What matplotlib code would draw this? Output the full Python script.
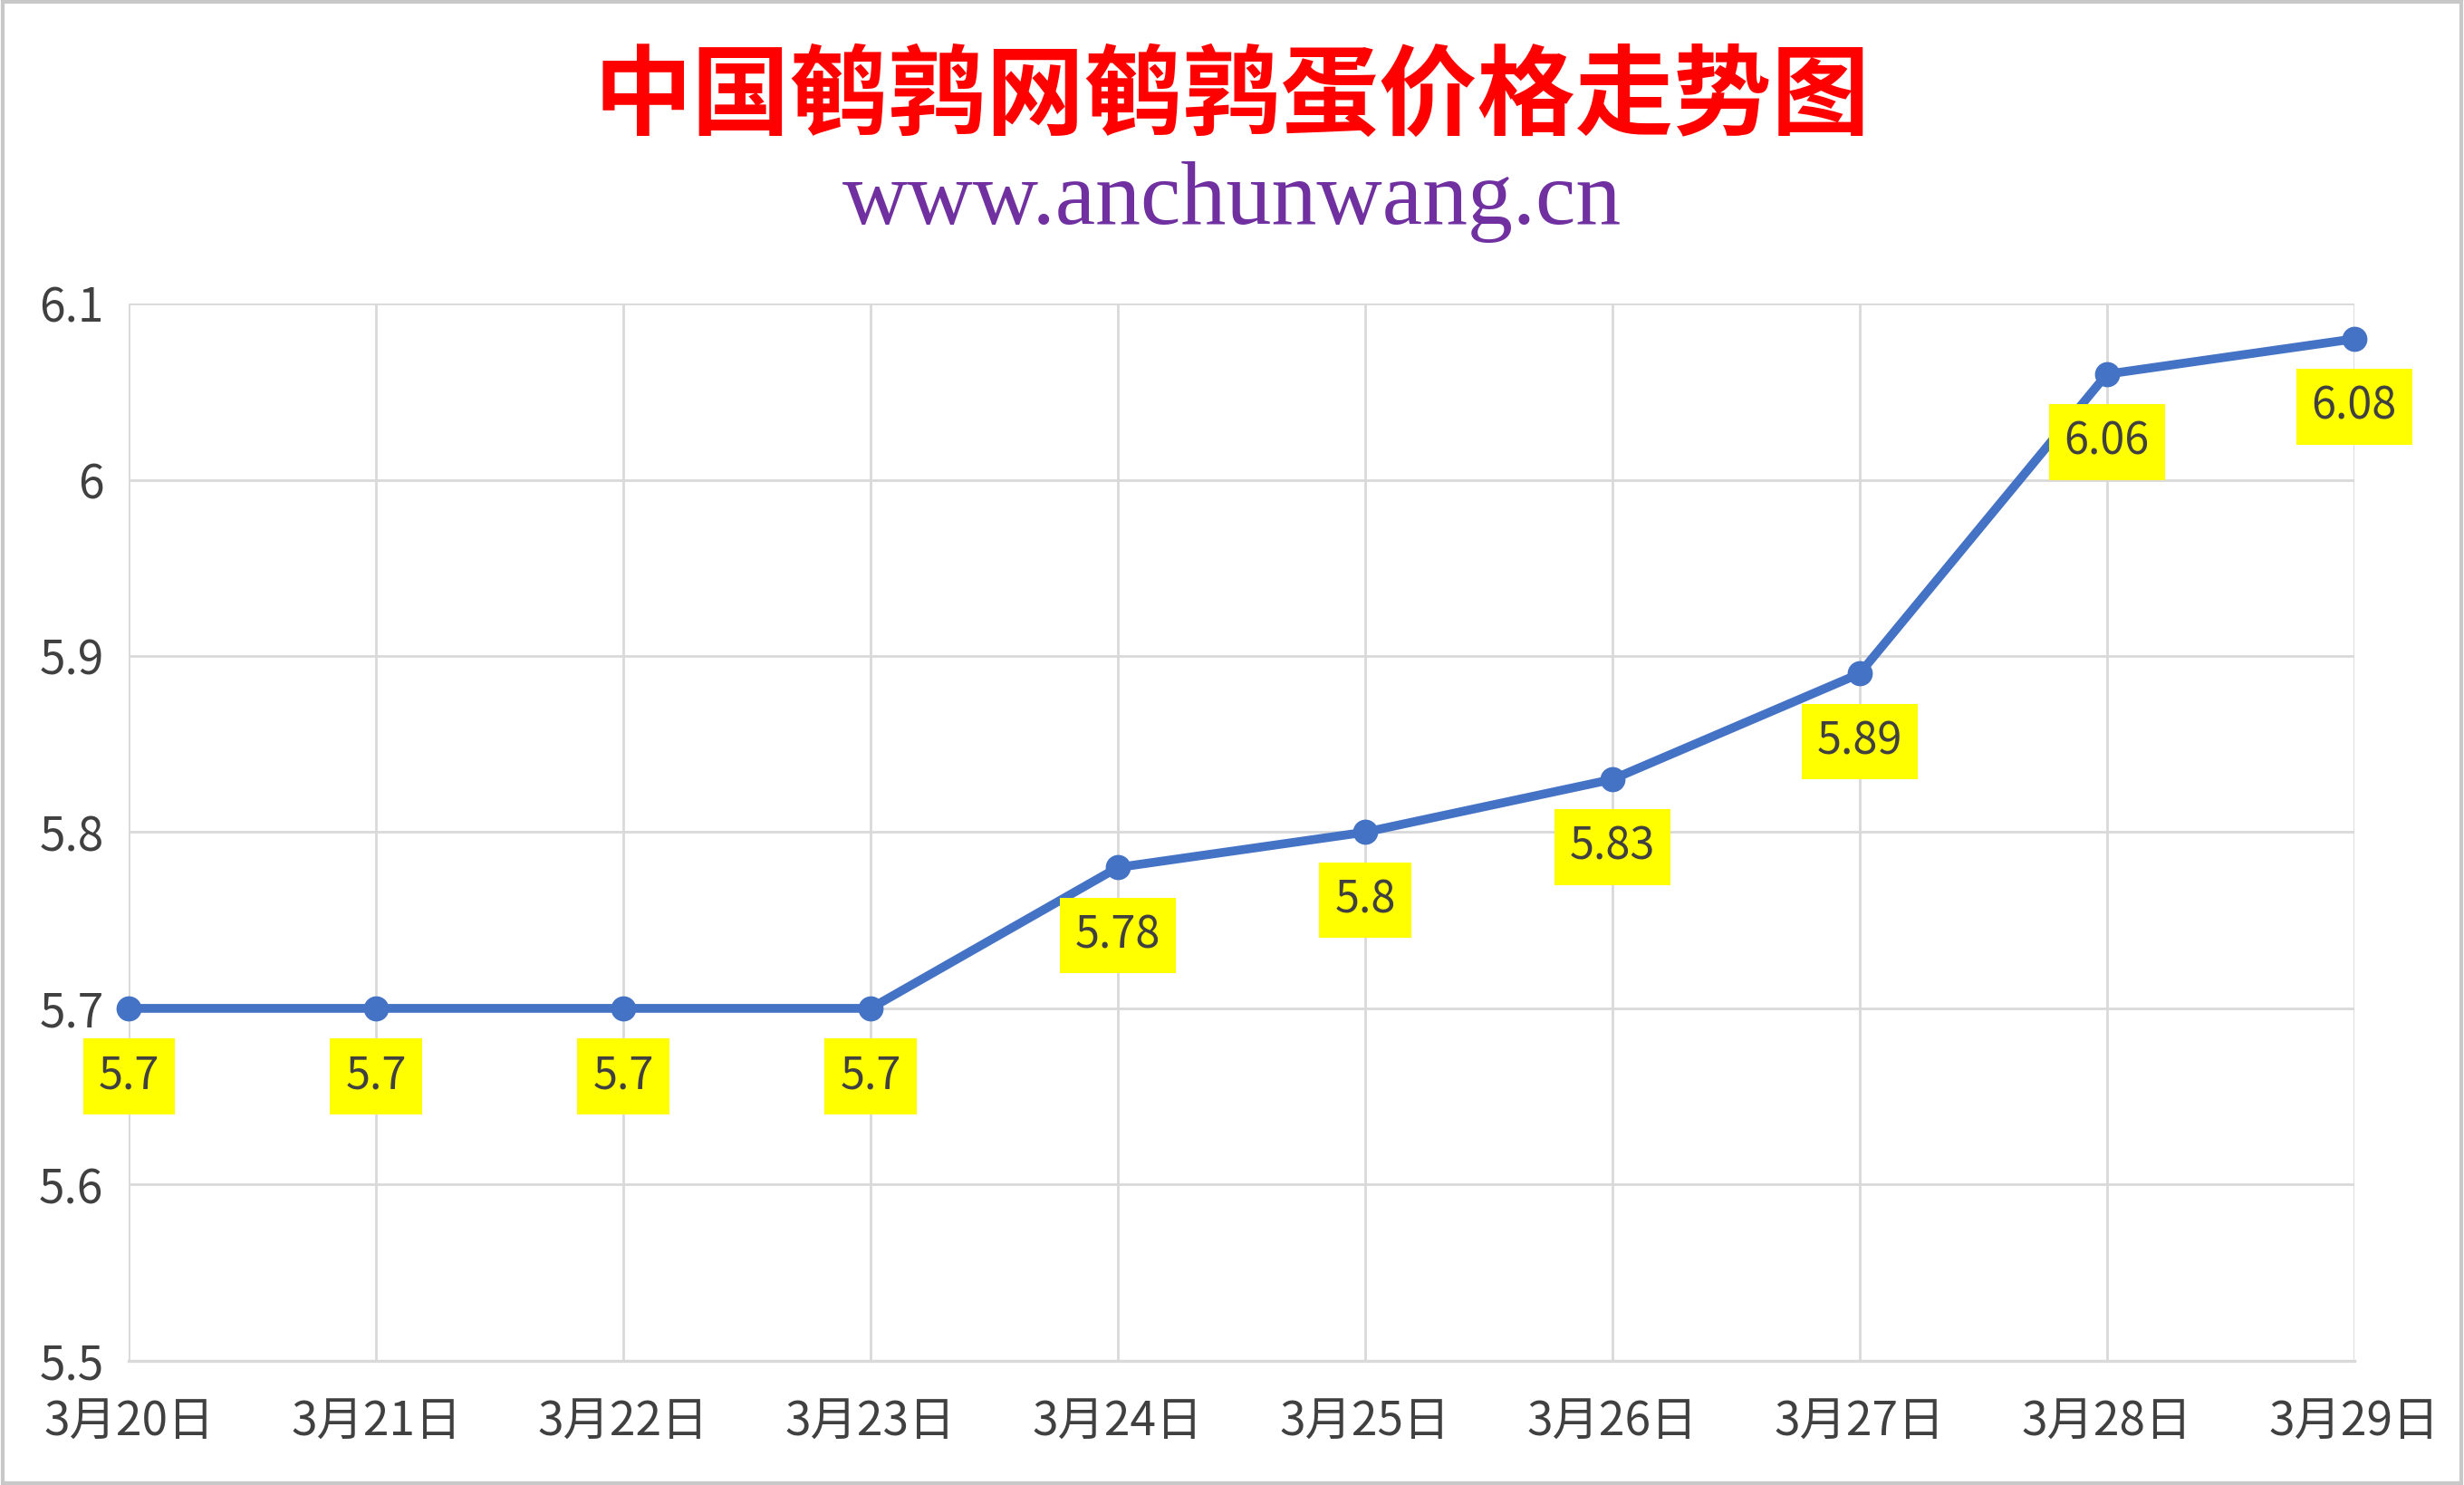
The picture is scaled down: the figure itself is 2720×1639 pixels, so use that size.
import matplotlib.pyplot as plt
from matplotlib.patches import Rectangle

dates = ["3月20日", "3月21日", "3月22日", "3月23日", "3月24日",
         "3月25日", "3月26日", "3月27日", "3月28日", "3月29日"]
prices = [5.7, 5.7, 5.7, 5.7, 5.78, 5.8, 5.83, 5.89, 6.06, 6.08]
price_labels = ["5.7", "5.7", "5.7", "5.7", "5.78", "5.8", "5.83", "5.89", "6.06", "6.08"]
y_ticks = [5.5, 5.6, 5.7, 5.8, 5.9, 6.0, 6.1]
y_tick_labels = ["5.5", "5.6", "5.7", "5.8", "5.9", "6", "6.1"]

plt.rcParams['font.family'] = ['Noto Sans CJK SC', 'DejaVu Sans']

fig = plt.figure(figsize=(13.6, 8.195), dpi=200)
ax = fig.add_axes([0.0523, 0.0837, 0.9031, 0.7118])

x = list(range(len(dates)))
ax.plot(x, prices, color="#4472C4", linewidth=3.5, marker="o",
        markersize=9, zorder=3, clip_on=False)

for xi, yi, lab in zip(x, prices, price_labels):
    ax.annotate(lab, (xi, yi), xytext=(0, -27), textcoords="offset points",
                ha="center", va="center", fontsize=17.5, color="#404040",
                bbox=dict(boxstyle="square,pad=0.35", fc="#FFFF00", ec="none"),
                zorder=4)

ax.set_xlim(0, len(dates) - 1)
ax.set_ylim(5.5, 6.1)
ax.set_xticks(x)
ax.set_xticklabels(dates, fontsize=18.5, color="#404040")
ax.set_yticks(y_ticks)
ax.set_yticklabels(y_tick_labels, fontsize=18.5, color="#404040")
ax.tick_params(length=0)
ax.tick_params(axis="y", pad=10)
ax.tick_params(axis="x", pad=15)
ax.grid(True, color="#D9D9D9", linewidth=1.0)
ax.set_axisbelow(True)
for s in ["top", "right", "left"]:
    ax.spines[s].set_visible(False)
ax.spines["bottom"].set_color("#D9D9D9")
ax.spines["bottom"].set_linewidth(1.2)

fig.text(0.5, 0.934, "中国鹌鹑网鹌鹑蛋价格走势图", ha="center", va="center",
         fontsize=39, color="#FF0000", fontweight="bold")
fig.text(0.5, 0.864, "www.anchunwang.cn", ha="center", va="center",
         fontsize=36, color="#7030A0", family="Liberation Serif")

fig.patches.append(Rectangle((0.001, 0.001), 0.998, 0.998, transform=fig.transFigure,
                             fill=False, ec="#C8C8C8", lw=1.5))

fig.savefig("out.png", dpi=200, facecolor="white")
